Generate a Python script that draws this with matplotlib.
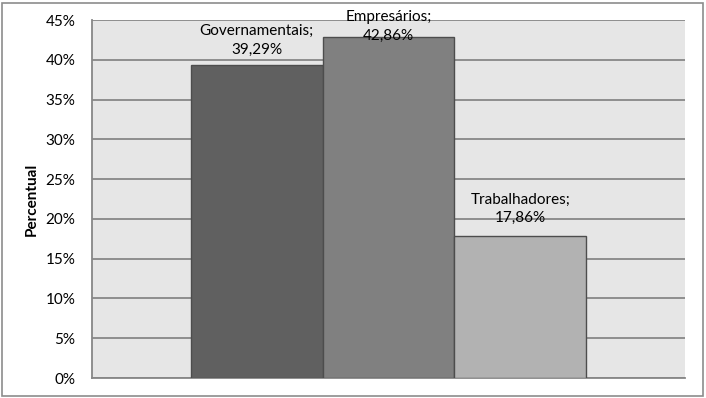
#!/usr/bin/env python3
"""Bar chart: Percentual por grupo (Governamentais, Empresários, Trabalhadores)"""

import matplotlib
matplotlib.use('Agg')
import matplotlib.pyplot as plt
from matplotlib.patches import Rectangle
from matplotlib.ticker import FuncFormatter

# Data
categories = ['Governamentais', 'Empresários', 'Trabalhadores']
values = [39.29, 42.86, 17.86]
bar_colors = ['#606060', '#808080', '#b2b2b2']
# label offset above bar top (pixels)
label_offsets = [25, 11, 27]
y_ticks = [0, 5, 10, 15, 20, 25, 30, 35, 40, 45]

plt.rcParams['font.family'] = ['Lato', 'DejaVu Sans']

W, H = 706, 398
fig = plt.figure(figsize=(W / 100, H / 100), dpi=100)
fig.patch.set_facecolor('white')

# outer chart border
fig.add_artist(Rectangle((2 / W, 2 / H), 701 / W, 393 / H, transform=fig.transFigure,
                         fill=False, edgecolor='#8c8c8c', linewidth=1.2))

ax = fig.add_axes([92 / W, (H - 378) / H, 593 / W, 358 / H])
ax.set_facecolor('#e6e6e6')

x = list(range(len(values)))
ax.bar(x, values, width=1.0, color=bar_colors, edgecolor='#4d4d4d', linewidth=1.0, zorder=3)

ax.set_xlim(-1.25, 3.25)
ax.set_ylim(0, 45)
ax.set_yticks(y_ticks)
ax.yaxis.set_major_formatter(FuncFormatter(lambda v, p: f'{v:.0f}%'))
ax.set_xticks([])
ax.tick_params(axis='y', length=0, pad=12, labelsize=11, colors='black')
ax.grid(axis='y', color='#878787', linewidth=1.3, zorder=1)

for side in ['top', 'right']:
    ax.spines[side].set_visible(False)
for side in ['left', 'bottom']:
    ax.spines[side].set_color('#878787')
    ax.spines[side].set_linewidth(1.3)

ax.set_ylabel('Percentual', fontsize=11, fontweight='bold', labelpad=5)

for xi, cat, val, off in zip(x, categories, values, label_offsets):
    label = f'{cat};\n{val:.2f}%'.replace('.', ',')
    ax.annotate(label, xy=(xi, val), xytext=(0, off), textcoords='offset pixels',
                ha='center', va='center', fontsize=11, linespacing=1.45, zorder=4)

fig.savefig('out.png', dpi=100)
